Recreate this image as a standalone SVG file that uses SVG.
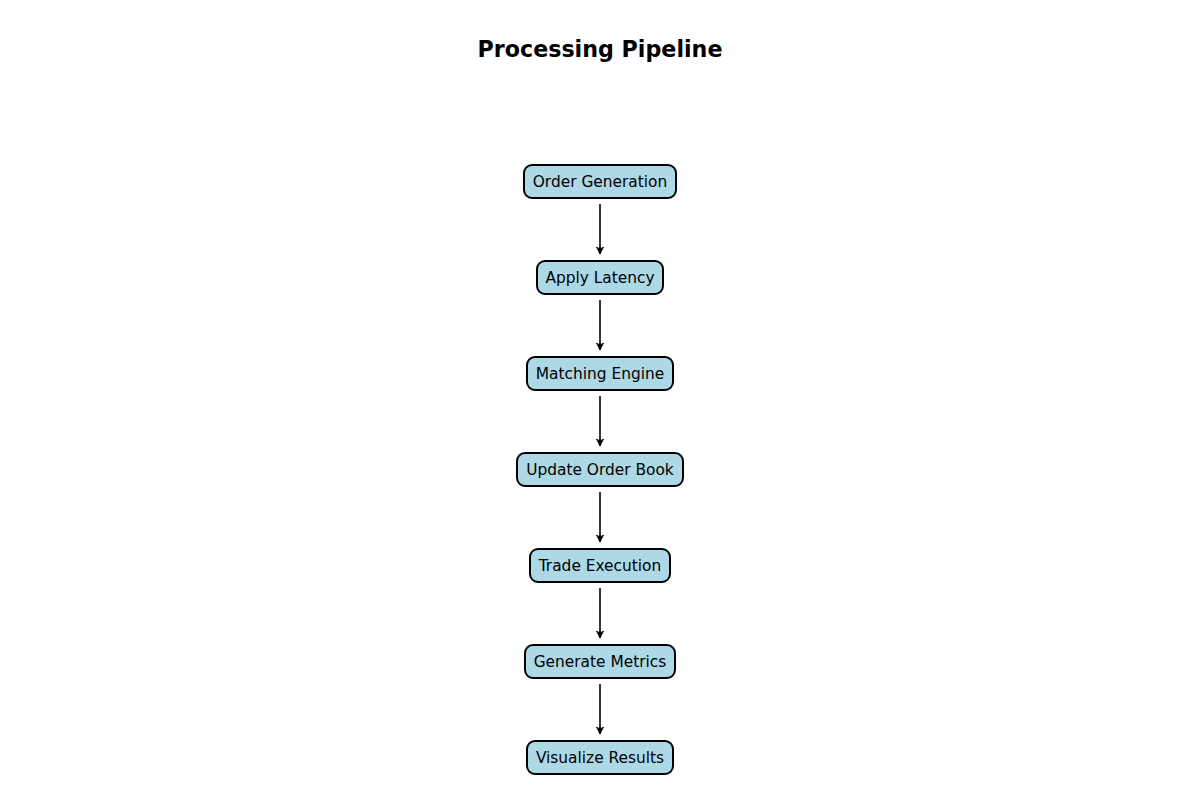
<svg xmlns="http://www.w3.org/2000/svg" width="1200" height="800" viewBox="0 0 1200 800">
<style>
.box{fill:#add8e6;stroke:#000;stroke-width:2}
.lbl{font-family:"DejaVu Sans",sans-serif;font-size:15.4px;text-anchor:middle;dominant-baseline:central;fill:#000}
.title{font-family:"DejaVu Sans",sans-serif;font-size:22.2px;font-weight:bold;text-anchor:middle;fill:#000}
.conn{stroke:#000;stroke-width:1.6;fill:none;marker-end:url(#ah)}
</style>
<defs>
<marker id="ah" viewBox="-8 -4 8 8" refX="0" refY="0" markerWidth="8" markerHeight="8" markerUnits="userSpaceOnUse" orient="auto" overflow="visible">
<path d="M0,0 L-7,-3.5 L-5,0 L-7,3.5 z" fill="#000" stroke="#000" stroke-width="0.8"/>
</marker>
</defs>
<rect width="1200" height="800" fill="#fff"/>
<text class="title" x="600" y="57">Processing Pipeline</text>
<g id="connectors">
<line class="conn" x1="600" y1="204" x2="600" y2="254"/>
<line class="conn" x1="600" y1="300" x2="600" y2="350"/>
<line class="conn" x1="600" y1="396" x2="600" y2="446"/>
<line class="conn" x1="600" y1="492" x2="600" y2="542"/>
<line class="conn" x1="600" y1="588" x2="600" y2="638"/>
<line class="conn" x1="600" y1="684" x2="600" y2="734"/>
</g>
<g id="n1"><rect class="box" x="524" y="165" width="152" height="33" rx="8"/><text class="lbl" x="600" y="181.5">Order Generation</text></g>
<g id="n2"><rect class="box" x="537" y="261" width="126" height="33" rx="8"/><text class="lbl" x="600" y="277.5">Apply Latency</text></g>
<g id="n3"><rect class="box" x="527" y="357" width="146" height="33" rx="8"/><text class="lbl" x="600" y="373.5">Matching Engine</text></g>
<g id="n4"><rect class="box" x="517" y="453" width="166" height="33" rx="8"/><text class="lbl" x="600" y="469.5">Update Order Book</text></g>
<g id="n5"><rect class="box" x="530" y="549" width="140" height="33" rx="8"/><text class="lbl" x="600" y="565.5">Trade Execution</text></g>
<g id="n6"><rect class="box" x="525" y="645" width="150" height="33" rx="8"/><text class="lbl" x="600" y="661.5">Generate Metrics</text></g>
<g id="n7"><rect class="box" x="527" y="741" width="146" height="33" rx="8"/><text class="lbl" x="600" y="757.5">Visualize Results</text></g>
</svg>
